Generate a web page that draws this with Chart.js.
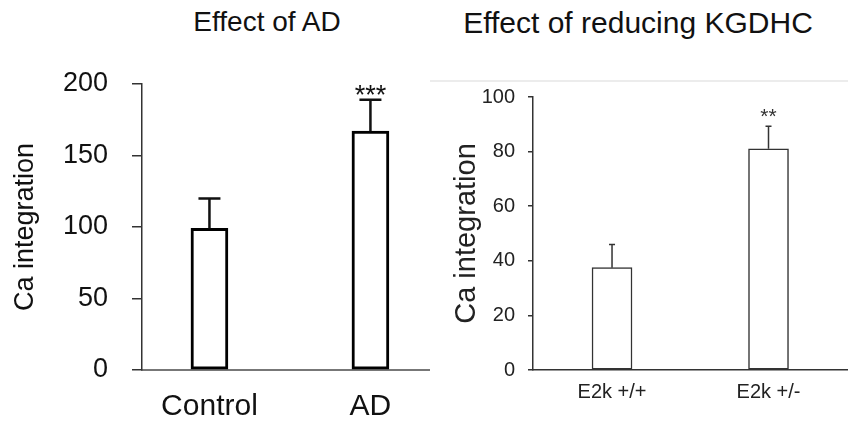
<!DOCTYPE html>
<html>
<head>
<meta charset="utf-8">
<script src="https://cdn.jsdelivr.net/npm/chart.js@4/dist/chart.umd.min.js"></script>
<style>
  body { margin: 0; background: #fff; width: 848px; height: 443px; overflow: hidden; position: relative; font-family: "Liberation Sans", Arial, sans-serif; }
  canvas { position: absolute; top: 0; }
  .title { position: absolute; top: 6px; white-space: nowrap; color: #111; transform: translateX(-50%); }
  #rule { position: absolute; left: 430px; top: 80px; width: 418px; border-top: 2px solid #ececec; }
</style>
</head>
<body>
<div class="title" style="left:267px;font-size:28px;">Effect of AD</div>
<div class="title" style="left:638px;font-size:30px;">Effect of reducing KGDHC</div>
<div id="rule"></div>
<canvas id="adChart" width="430" height="443" style="left:0"></canvas>
<canvas id="kgChart" width="418" height="443" style="left:430px"></canvas>
<script>
// left panel: Effect of AD
const adLabels = ['Control', 'AD'];
const adValues = [99, 167];
const adErrors = [21, 22];
const adStars = ['', '***'];
const adYMax = 200, adYStep = 50;

// right panel: Effect of reducing KGDHC
const kgLabels = ['E2k +/+', 'E2k +/-'];
const kgValues = [37.5, 81];
const kgErrors = [8.5, 8.3];
const kgStars = ['', '**'];
const kgYMax = 100, kgYStep = 20;

// error bars + significance stars, drawn from the y scale
const errorBars = {
  id: 'errorBars',
  afterDatasetsDraw(chart, args, opts) {
    const ctx = chart.ctx;
    const y = chart.scales.y;
    const meta = chart.getDatasetMeta(0);
    ctx.save();
    ctx.strokeStyle = opts.color;
    ctx.lineWidth = opts.width;
    meta.data.forEach((bar, i) => {
      const v = opts.values[i];
      const top = y.getPixelForValue(v + opts.errors[i]);
      const base = y.getPixelForValue(v);
      ctx.beginPath();
      ctx.moveTo(bar.x, base);
      ctx.lineTo(bar.x, top);
      ctx.moveTo(bar.x - opts.cap / 2, top);
      ctx.lineTo(bar.x + opts.cap / 2, top);
      ctx.stroke();
      if (opts.stars[i]) {
        ctx.fillStyle = opts.color;
        ctx.font = opts.starFont;
        ctx.textAlign = 'center';
        ctx.textBaseline = 'alphabetic';
        ctx.fillText(opts.stars[i], bar.x, top + opts.starShift);
      }
    });
    ctx.restore();
  }
};

function makeChart(id, labels, values, errors, stars, yMax, yStep, st) {
  return new Chart(document.getElementById(id), {
    type: 'bar',
    data: {
      datasets: [{
        data: values.map((v, i) => ({ x: i, y: v })),
        backgroundColor: '#fff',
        borderColor: st.barColor,
        borderWidth: st.barBorder,
        borderSkipped: false,
        barThickness: st.barWidth
      }]
    },
    options: {
      responsive: false,
      animation: false,
      layout: { padding: { top: st.top, left: 0, right: 0, bottom: 0 } },
      plugins: {
        legend: { display: false },
        tooltip: { enabled: false },
        errorBars: {
          values: values, errors: errors, stars: stars,
          color: st.errColor, width: st.errWidth, cap: st.cap,
          starFont: st.starFont, starShift: st.starShift
        }
      },
      scales: {
        x: {
          type: 'linear',
          offset: false,
          min: st.xMin, max: st.xMax,
          afterBuildTicks: s => { s.ticks = labels.map((l, i) => ({ value: i })); },
          afterFit: s => { s.height = 73; },
          grid: { display: false, drawTicks: false, offset: false },
          border: { display: true, color: st.baseColor, width: st.baseWidth },
          ticks: {
            callback: v => labels[v],
            color: st.textColor,
            font: st.catFont,
            padding: st.catPad,
            maxRotation: 0,
            autoSkip: false
          }
        },
        y: {
          min: 0, max: yMax,
          afterFit: s => { s.width = st.axisX; },
          grid: { drawOnChartArea: false, color: st.axisColor, lineWidth: st.axisWidth, tickLength: st.tickLen },
          border: { display: true, color: st.axisColor, width: st.axisWidth },
          ticks: { stepSize: yStep, color: st.textColor, font: st.tickFont, padding: st.tickPad },
          title: {
            display: true, text: 'Ca integration', color: st.textColor,
            font: st.titleFont, padding: { top: st.titlePad, bottom: 0 }
          }
        }
      }
    },
    plugins: [errorBars]
  });
}

makeChart('adChart', adLabels, adValues, adErrors, adStars, adYMax, adYStep, {
  top: 84, axisX: 142, xMin: -0.419, xMax: 1.37,
  barColor: '#000', barBorder: 3, barWidth: 37,
  errColor: '#111', errWidth: 2.5, cap: 22,
  starFont: '27px "Liberation Sans"', starShift: 4,
  baseColor: '#777', baseWidth: 2,
  axisColor: '#333', axisWidth: 1.5, tickLen: 10,
  textColor: '#111',
  catFont: { family: 'Liberation Sans', size: 30 }, catPad: 19,
  tickFont: { family: 'Liberation Sans', size: 27 }, tickPad: 24,
  titleFont: { family: 'Liberation Sans', size: 27 }, titlePad: 9
});

makeChart('kgChart', kgLabels, kgValues, kgErrors, kgStars, kgYMax, kgYStep, {
  top: 97, axisX: 103, xMin: -0.505, xMax: 1.508,
  barColor: '#333', barBorder: 1.5, barWidth: 40,
  errColor: '#333', errWidth: 1.5, cap: 6,
  starFont: '21px "Liberation Sans"', starShift: -3,
  baseColor: '#333', baseWidth: 1.5,
  axisColor: '#333', axisWidth: 1.5, tickLen: 5,
  textColor: '#222',
  catFont: { family: 'Liberation Sans', size: 20 }, catPad: 10,
  tickFont: { family: 'Liberation Sans', size: 20 }, tickPad: 13,
  titleFont: { family: 'Liberation Sans', size: 29 }, titlePad: 20
});
</script>
</body>
</html>
